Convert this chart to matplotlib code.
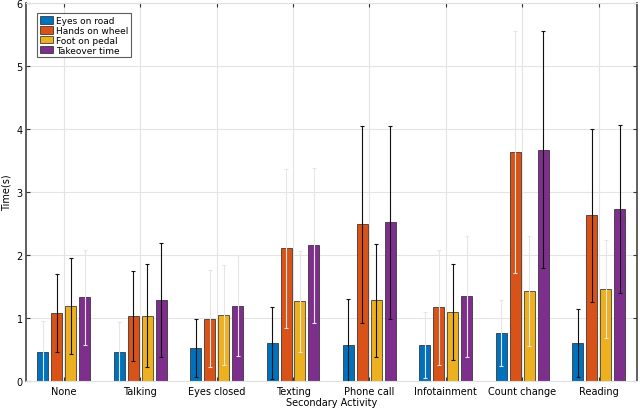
import matplotlib.pyplot as plt
import numpy as np

categories = ['None', 'Talking', 'Eyes closed', 'Texting', 'Phone call',
              'Infotainment', 'Count change', 'Reading']
series = ['Eyes on road', 'Hands on wheel', 'Foot on pedal', 'Takeover time']

eyes_on_road = [0.46, 0.46, 0.53, 0.60, 0.57, 0.57, 0.76, 0.60]
hands_on_wheel = [1.08, 1.03, 0.99, 2.11, 2.49, 1.17, 3.63, 2.63]
foot_on_pedal = [1.19, 1.04, 1.05, 1.27, 1.28, 1.10, 1.43, 1.46]
takeover_time = [1.33, 1.29, 1.20, 2.16, 2.52, 1.35, 3.67, 2.73]

eyes_on_road_sd = [0.50, 0.48, 0.46, 0.57, 0.74, 0.52, 0.52, 0.54]
hands_on_wheel_sd = [0.62, 0.71, 0.77, 1.26, 1.56, 0.91, 1.92, 1.37]
foot_on_pedal_sd = [0.76, 0.82, 0.79, 0.80, 0.89, 0.76, 0.88, 0.78]
takeover_time_sd = [0.75, 0.91, 0.80, 1.23, 1.53, 0.96, 1.88, 1.33]

means = [eyes_on_road, hands_on_wheel, foot_on_pedal, takeover_time]
sds = [eyes_on_road_sd, hands_on_wheel_sd, foot_on_pedal_sd, takeover_time_sd]

# matlab default colours
colors = ['#0072BD', '#D95319', '#EDB120', '#7E2F8E']

# which error bars came out dark in the original export (1) or faint (0)
dark_err = [
    [0, 0, 1, 1, 1, 0, 0, 1],
    [1, 1, 0, 0, 1, 0, 0, 1],
    [1, 1, 0, 0, 1, 1, 0, 0],
    [0, 1, 0, 0, 1, 0, 1, 1],
]

plt.rcParams['font.family'] = 'DejaVu Sans'
fig = plt.figure(figsize=(6.4, 4.1), dpi=100)
ax = fig.add_axes([0.04, 0.068, 0.955, 0.922])

x = np.arange(1, len(categories) + 1)
pitch = 0.183
width = 0.144
for i, (m, s) in enumerate(zip(means, sds)):
    pos = x + (i - 1.5) * pitch
    ax.bar(pos, m, width, color=colors[i], edgecolor='#222222', linewidth=0.5,
           label=series[i], zorder=2)
    for j in range(len(categories)):
        c = '#111111' if dark_err[i][j] else '#e6e6e6'
        ax.errorbar(pos[j], m[j], yerr=s[j], fmt='none', ecolor=c,
                    elinewidth=0.8, capsize=1.2, capthick=0.8, zorder=3)

ax.set_xlim(0.5, 8.5)
ax.set_ylim(0, 6)
ax.set_xticks(x)
ax.set_xticklabels(categories, fontsize=7)
ax.set_yticks(range(0, 7))
ax.tick_params(axis='y', labelsize=7, pad=2)
ax.tick_params(direction='in', length=3, top=True, right=True, color='#333333')
ax.grid(True, color='#e4e4e4', linewidth=0.8, zorder=0)
ax.set_axisbelow(True)
for side in ['left', 'right']:
    ax.spines[side].set_color('#444444')
    ax.spines[side].set_linewidth(1.2)
for side in ['top', 'bottom']:
    ax.spines[side].set_color('#e0e0e0')

ax.set_ylabel('Time(s)', fontsize=7)
ax.yaxis.set_label_coords(-0.023, 0.5)
ax.set_xlabel('Secondary Activity', fontsize=7, labelpad=1)

leg = ax.legend(loc='upper left', bbox_to_anchor=(0.012, 0.985), fontsize=6.5,
                frameon=True, fancybox=False, handlelength=1.4, handleheight=0.9,
                borderpad=0.3, labelspacing=0.1, handletextpad=0.4)
leg.get_frame().set_edgecolor('#333333')
leg.get_frame().set_linewidth(0.8)

fig.savefig('out.png', dpi=100)
